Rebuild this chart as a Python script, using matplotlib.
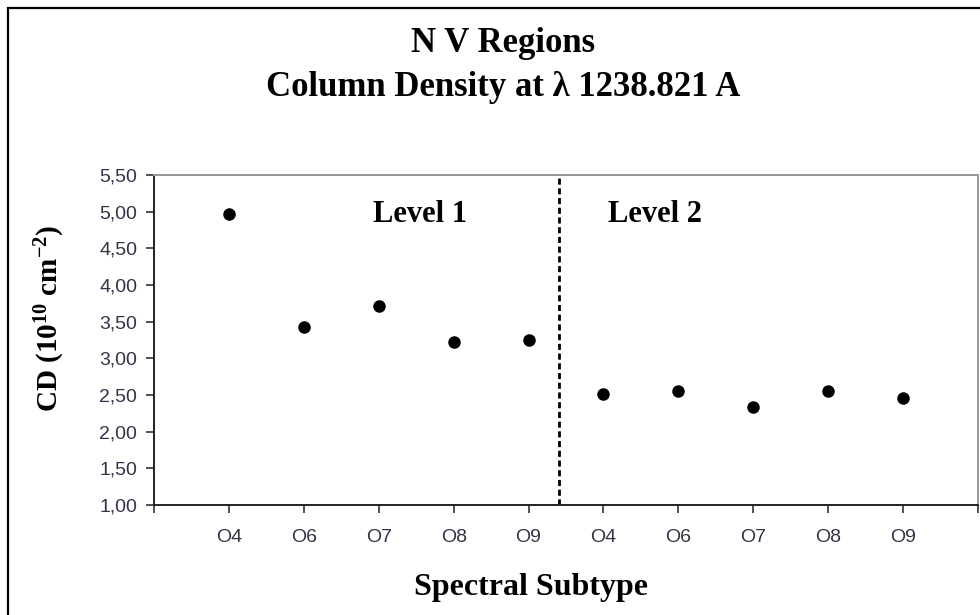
import matplotlib
matplotlib.use("Agg")
import matplotlib.pyplot as plt
from matplotlib.patches import Rectangle
from matplotlib.ticker import FuncFormatter

# values
subtypes = ['O4', 'O6', 'O7', 'O8', 'O9']
level1_cd = [4.97, 3.43, 3.72, 3.22, 3.25]
level2_cd = [2.52, 2.55, 2.33, 2.55, 2.46]

x1 = list(range(1, 6))
x2 = list(range(6, 11))
divider_x = 5.4

serif = 'Liberation Serif'
sans = 'Liberation Sans'
plt.rcParams['mathtext.fontset'] = 'custom'
plt.rcParams['mathtext.rm'] = 'Liberation Serif:bold'
plt.rcParams['mathtext.bf'] = 'Liberation Serif:bold'
plt.rcParams['mathtext.it'] = 'Liberation Serif:bold'

fig = plt.figure(figsize=(9.8, 6.15), dpi=100)
fig.patch.set_facecolor('white')

# outer chart frame (runs off the right and bottom edges)
fig.patches.append(Rectangle((8 / 980, -0.1), 1.2, 1 - 8 / 615 + 0.1,
                             transform=fig.transFigure, fill=False,
                             edgecolor='black', linewidth=1.6))

ax = fig.add_axes([154 / 980, 1 - 505 / 615, (978 - 154) / 980, (505 - 175) / 615])

ax.plot(x1, level1_cd, 'o', color='black', ms=8)
ax.plot(x2, level2_cd, 'o', color='black', ms=8)
ax.axvline(divider_x, color='black', lw=2, ls=(0, (2.2, 1.3)))

ax.set_xlim(0, 11)
ax.set_ylim(1.0, 5.5)
ax.set_xticks(range(0, 12))
ax.set_xticklabels([''] + subtypes + subtypes + [''])
ax.set_yticks([1 + 0.5 * i for i in range(10)])
ax.yaxis.set_major_formatter(FuncFormatter(lambda v, p: ('%.2f' % v).replace('.', ',')))

ax.tick_params(direction='out', length=6, width=1.2, color='#333333',
               labelsize=14, labelcolor='#3a2f4a')
ax.tick_params(axis='y', pad=6)
ax.tick_params(axis='x', pad=11)
for lab in ax.get_xticklabels() + ax.get_yticklabels():
    lab.set_family(sans)

for s in ['left', 'bottom']:
    ax.spines[s].set_color('#222222')
    ax.spines[s].set_linewidth(1.4)
for s in ['top', 'right']:
    ax.spines[s].set_color('#999999')
    ax.spines[s].set_linewidth(1.4)

ax.text(2.92, 4.96, 'Level 1', family=serif, weight='bold', fontsize=22, ha='left', va='center')
ax.text(6.06, 4.96, 'Level 2', family=serif, weight='bold', fontsize=22, ha='left', va='center')

fig.text(503 / 980, 1 - 43 / 615, 'N V Regions', family=serif, weight='bold', fontsize=25,
         ha='center', va='center')
fig.text(503 / 980, 1 - 87 / 615, 'Column Density at \u03bb 1238.821 A', family=serif,
         weight='bold', fontsize=25, ha='center', va='center')

fig.text(531 / 980, 1 - 588 / 615, 'Spectral Subtype', family=serif, weight='bold', fontsize=23,
         ha='center', va='center')
fig.text(50 / 980, 1 - 318 / 615, r'CD (10$^{10}$ cm$^{-2}$)', family=serif,
         weight='bold', fontsize=21, ha='center', va='center', rotation=90)

fig.savefig('out.png', dpi=100, facecolor='white')
